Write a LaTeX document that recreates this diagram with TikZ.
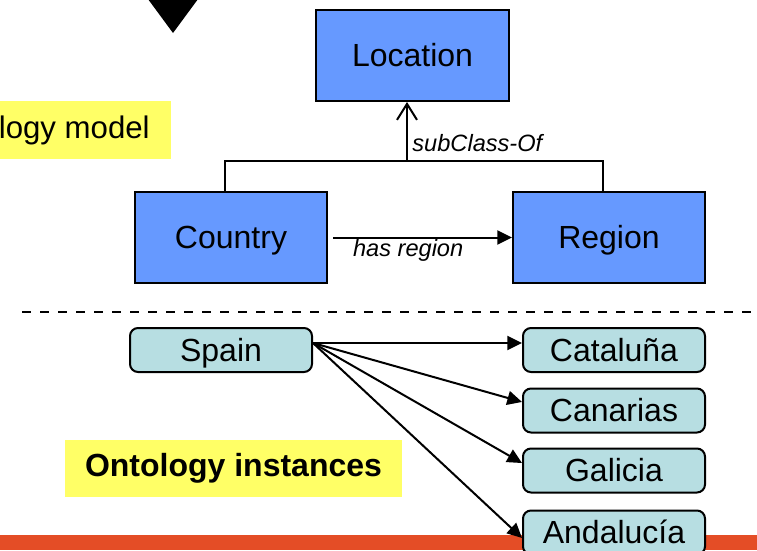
\documentclass[tikz,border=0pt]{standalone}
\usepackage{fontspec}
\setmainfont{Liberation Sans}
\usetikzlibrary{arrows.meta}
\definecolor{classblue}{RGB}{102,153,255}
\definecolor{instcyan}{RGB}{183,222,226}
\definecolor{noteyellow}{RGB}{255,255,102}
\definecolor{barorange}{RGB}{228,77,38}
\tikzset{
  font={\fontsize{24pt}{28pt}\selectfont},
  classbox/.style={draw=black, fill=classblue, line width=1.5pt,
    minimum width=144pt, minimum height=68.25pt, inner sep=0pt,
    text height=17.2pt, text depth=0pt},
  instbox/.style={draw=black, fill=instcyan, line width=1.5pt, rounded corners=6pt,
    minimum width=136.5pt, minimum height=33pt, inner sep=0pt,
    text height=17.2pt, text depth=0pt},
  notebox/.style={fill=noteyellow, inner sep=0pt},
  rel/.style={font={\fontsize{17.7pt}{20pt}\selectfont\itshape}},
  link/.style={line width=1.5pt, -{Triangle[length=11pt,width=10.5pt]}}
}

\begin{document}
\begin{tikzpicture}[x=0.75pt, y=-0.75pt]
\useasboundingbox (0,0) rectangle (757,550);
\clip (0,0) rectangle (757,550);
% bottom bar and top marker
\fill [barorange] (0,535) rectangle (757,550);
\fill [black] (145,-5) -- (201,-5) -- (173,33) -- cycle;
% ontology model
\node [notebox, anchor=east, minimum height=43.5pt, inner xsep=15.75pt,
  font={\fontsize{23.4pt}{28pt}\selectfont}] (modeltag) at (171,130) {Ontology model};
\node [classbox, minimum width=144.75pt] (location) at (412.5,55.5) {Location};
\node [classbox] (country) at (231,237.5) {Country};
\node [classbox] (region) at (609,237.5) {Region};
\coordinate (junc) at (407,161);
\draw [line width=1.5pt] ([xshift=-4.5pt]country.north) |- (junc) -| ([xshift=-4.5pt]region.north);
\draw [line width=1.5pt, -{Straight Barb[length=12pt,width=15pt]}] (junc) -- (location.south -| junc)
  node [rel, anchor=west, pos=0.3] {subClass-Of};
\draw [link] ([xshift=3.75pt]country.east) -- (region.west)
  node [rel, below, pos=0.42, inner sep=1pt] {has region};
% separator
\coordinate (sepL) at (22,312);
\coordinate (sepR) at (757,312);
\draw [line width=1.5pt, dash pattern=on 6.75pt off 6.75pt] (sepL) -- (sepR);
% ontology instances
\node [notebox, minimum width=252.75pt, minimum height=42.75pt] (insttag) at (233.5,468.5) {\bfseries Ontology instances};
\node [instbox] (spain) at (221,350) {Spain};
\node [instbox] (cat) at (614,350) {Cataluña};
\node [instbox] (can) at (614,410.5) {Canarias};
\node [instbox] (gal) at (614,470.5) {Galicia};
\node [instbox] (and) at (614,532.5) {Andalucía};
\coordinate (src) at ([yshift=5.25pt]spain.east);
\draw [link] (src) -- ([yshift=5.25pt]cat.west);
\draw [link] (src) -- ([yshift=6.4pt]can.west);
\draw [link] (src) -- ([yshift=5.6pt]gal.west);
\draw [link] (src) -- ([yshift=-4.1pt]and.west);
\end{tikzpicture}
\end{document}
